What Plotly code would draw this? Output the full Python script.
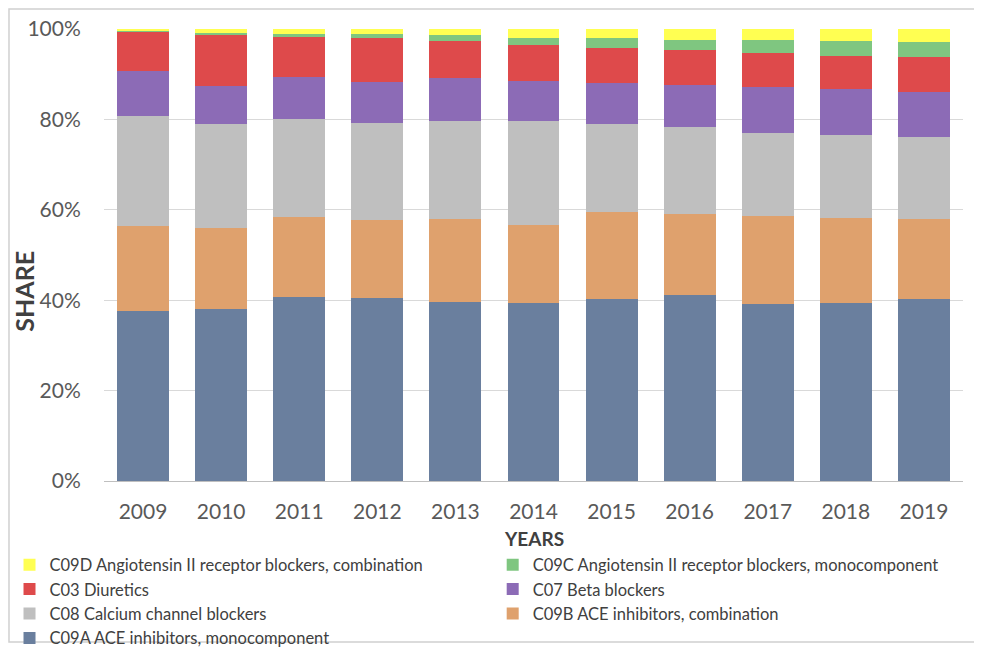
import plotly.graph_objects as go

years = ["2009", "2010", "2011", "2012", "2013", "2014", "2015", "2016", "2017", "2018", "2019"]

# shares in percent (bottom of the stack first)
c09a = [37.6, 38.1, 40.7, 40.4, 39.6, 39.3, 40.2, 41.1, 39.1, 39.4, 40.2]
c09b = [18.8, 17.9, 17.7, 17.3, 18.4, 17.3, 19.4, 17.9, 19.5, 18.7, 17.7]
c08 = [24.4, 22.9, 21.6, 21.4, 21.6, 23.0, 19.3, 19.4, 18.3, 18.4, 18.1]
c07 = [9.8, 8.5, 9.3, 9.2, 9.5, 8.9, 9.1, 9.2, 10.3, 10.2, 10.1]
c03 = [8.8, 11.2, 8.9, 9.6, 8.3, 7.9, 7.9, 7.8, 7.6, 7.3, 7.6]
c09c = [0.2, 0.6, 0.8, 1.1, 1.3, 1.7, 2.0, 2.2, 2.7, 3.3, 3.4]
c09d = [0.4, 0.8, 1.0, 1.0, 1.3, 1.9, 2.1, 2.4, 2.7, 2.7, 2.9]

names = ["C09A ACE inhibitors, monocomponent",
         "C09B ACE inhibitors, combination",
         "C08 Calcium channel blockers",
         "C07 Beta blockers",
         "C03 Diuretics",
         "C09C Angiotensin II receptor blockers, monocomponent",
         "C09D Angiotensin II receptor blockers, combination"]
colors = ["#6a7f9e", "#dfa16d", "#bfbfbf", "#8c6bb6", "#de4a4b", "#7fc680", "#ffff52"]
series = [c09a, c09b, c08, c07, c03, c09c, c09d]
# legend column of each series (left / right), as in the picture
legend_col = ["legend", "legend2", "legend", "legend2", "legend", "legend2", "legend"]

fig = go.Figure()
for name, vals, col, leg in zip(names, series, colors, legend_col):
    fig.add_trace(go.Bar(x=years, y=vals, name=name, marker_color=col,
                         marker_line_width=0, legend=leg))

# the page body has an 8px margin, so the figure is a bit smaller than the window
leg_font = dict(size=16.5, color="#404040")
fig.update_layout(
    barmode="stack",
    bargap=0.335,
    width=974, height=646,
    margin=dict(l=96, r=19, t=21, b=173, autoexpand=False),
    paper_bgcolor="white", plot_bgcolor="white",
    font=dict(family="Lato, Noto Sans, sans-serif", color="#595959"),
    legend=dict(traceorder="reversed", x=-0.110, y=-0.147,
                xanchor="left", yanchor="top", font=leg_font,
                bgcolor="rgba(0,0,0,0)"),
    legend2=dict(traceorder="reversed", x=0.4525, y=-0.147,
                 xanchor="left", yanchor="top", font=leg_font,
                 bgcolor="rgba(0,0,0,0)"),
    showlegend=True,
)
fig.update_yaxes(range=[0, 100], dtick=20, ticksuffix="%",
                 showgrid=True, gridcolor="#d9d9d9", gridwidth=1,
                 zeroline=False, showline=False,
                 ticks="outside", ticklen=18, tickcolor="rgba(0,0,0,0)",
                 tickfont=dict(size=21))
fig.update_xaxes(showline=True, linecolor="#bfbfbf", linewidth=1,
                 ticks="outside", ticklen=12, tickcolor="rgba(0,0,0,0)",
                 tickfont=dict(size=21))

fig.add_annotation(text="<b>YEARS</b>", xref="paper", yref="paper",
                   x=0.5, y=-0.127, xanchor="center", yanchor="middle",
                   showarrow=False, font=dict(size=19, color="#404040"))
fig.add_annotation(text="<b>SHARE</b>", xref="paper", yref="paper",
                   x=-0.0925, y=0.42, xanchor="center", yanchor="middle",
                   textangle=-90, showarrow=False,
                   font=dict(size=25, color="#404040"))

# light frame round the whole chart
fig.add_shape(type="rect", xref="paper", yref="paper",
              x0=-0.1106, x1=1.0163, y0=-0.356, y1=1.0443,
              line=dict(color="#d0d0d0", width=1.5))

fig.write_html("out.html")
